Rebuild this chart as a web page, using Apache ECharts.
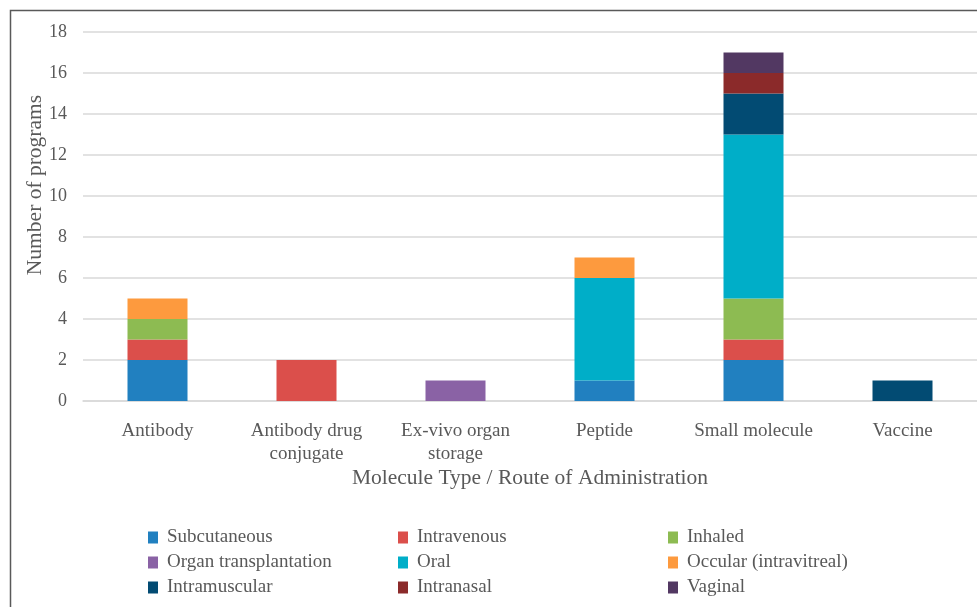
<!DOCTYPE html>
<html><head><meta charset="utf-8">
<script src="https://cdn.jsdelivr.net/npm/echarts@6/dist/echarts.min.js"></script>
<style>html,body{margin:0;padding:0;background:#fff}#c{width:977px;height:607px}</style>
</head><body><div id="c"></div>
<script>
const categories = ['Antibody','Antibody drug conjugate','Ex-vivo organ storage','Peptide','Small molecule','Vaccine'];
const tickLabels = ['Antibody','Antibody drug\nconjugate','Ex-vivo organ\nstorage','Peptide','Small molecule','Vaccine'];
const seriesNames = ['Subcutaneous','Intravenous','Inhaled','Organ transplantation','Oral','Occular (intravitreal)','Intramuscular','Intranasal','Vaginal'];
const subcutaneous = [2,0,0,1,2,0];
const intravenous = [1,2,0,0,1,0];
const inhaled = [1,0,0,0,2,0];
const organTransplantation = [0,0,1,0,0,0];
const oral = [0,0,0,5,8,0];
const occular = [1,0,0,1,0,0];
const intramuscular = [0,0,0,0,2,1];
const intranasal = [0,0,0,0,1,0];
const vaginal = [0,0,0,0,1,0];
const colors = ['#2180C0','#DB4F4B','#8DBB52','#8A62A5','#00AEC8','#FD9A3E','#024B73','#8B2A2A','#523862'];
const values = [subcutaneous,intravenous,inhaled,organTransplantation,oral,occular,intramuscular,intranasal,vaginal];
const xTitle = 'Molecule Type / Route of Administration';
const yTitle = 'Number of programs';

const font = 'Liberation Serif';
const colX = [148,398,668];
const rowY = [528,553,578];
const legends = seriesNames.map((n,i)=>({
  data:[n], left: colX[i%3], top: rowY[Math.floor(i/3)],
  itemWidth:10, itemHeight:12, icon:'rect', padding:0,
  textStyle:{fontFamily:font,fontSize:19,color:'#595959',padding:[0,0,0,4]}
}));

const chart = echarts.init(document.getElementById('c'),null,{renderer:'canvas'});
chart.setOption({
  animation:false,
  color:colors,
  graphic:[
    {type:'rect',left:8,top:8,shape:{width:1100,height:800},style:{fill:'none',stroke:'#595959',lineWidth:1.5},silent:true,z:-1},
    {type:'text',x:35,y:185,rotation:Math.PI/2,silent:true,
      style:{text:yTitle,align:'center',verticalAlign:'middle',fontFamily:font,fontSize:21.5,fill:'#595959'}}
  ],
  legend:legends,
  grid:{left:83,right:0,top:32,bottom:206,containLabel:false},
  xAxis:{type:'category',data:categories,
    axisLine:{lineStyle:{color:'#D9D9D9',width:1.5}},axisTick:{show:false},
    axisLabel:{fontFamily:font,fontSize:19,color:'#595959',margin:19,lineHeight:23,interval:0,
      formatter:(v,i)=>tickLabels[i]},
    name:xTitle,nameLocation:'middle',nameGap:66,nameMoveOverlap:false,
    nameTextStyle:{fontFamily:font,fontSize:21.5,color:'#595959'}},
  yAxis:{type:'value',min:0,max:18,interval:2,
    axisLine:{show:false},axisTick:{show:false},
    splitLine:{lineStyle:{color:'#D9D9D9',width:1.5}},
    axisLabel:{fontFamily:font,fontSize:18,color:'#595959',margin:16}},
  series:seriesNames.map((n,i)=>({name:n,type:'bar',stack:'total',data:values[i],barWidth:60}))
});
</script></body></html>
